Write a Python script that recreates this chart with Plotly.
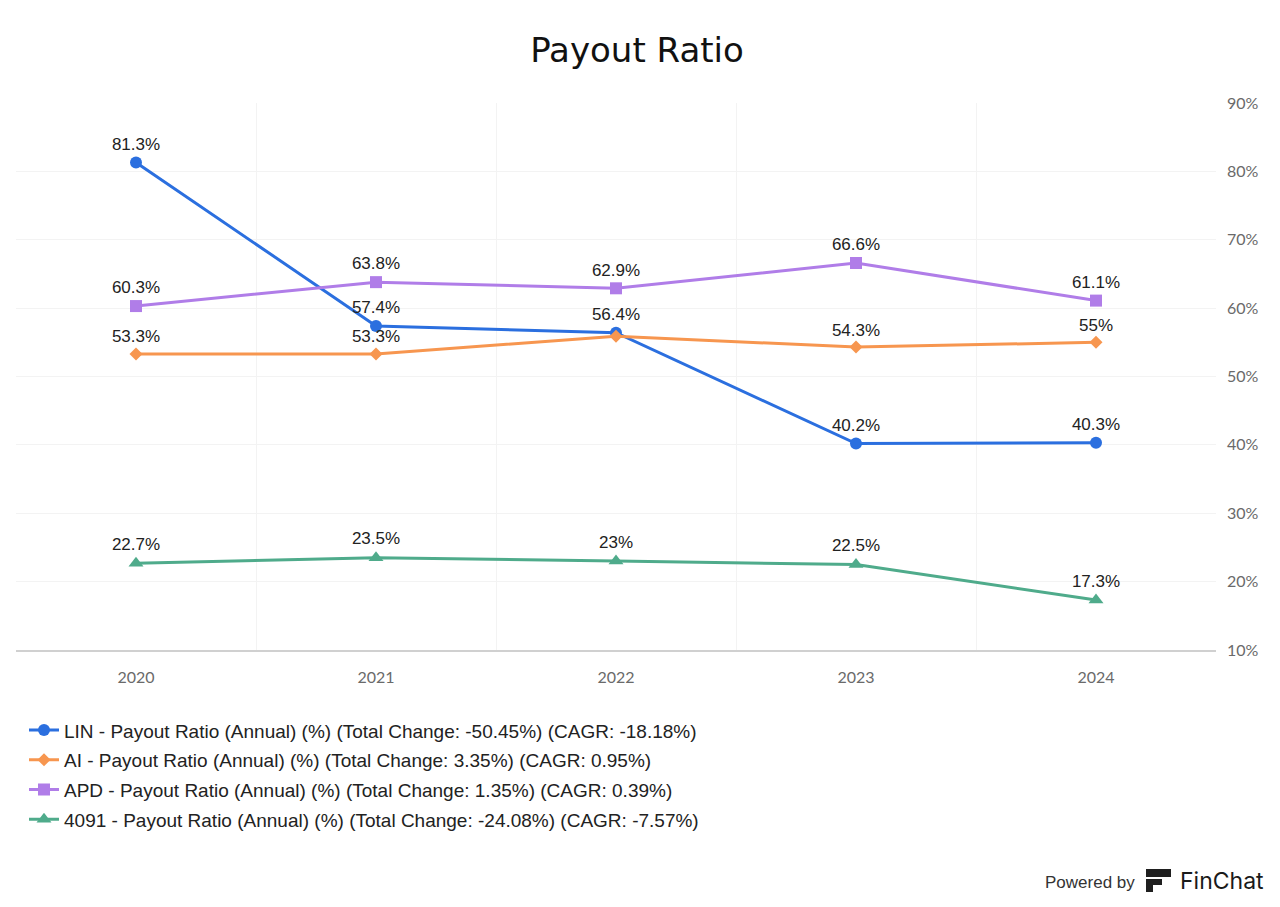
import plotly.graph_objects as go

years = ["2020", "2021", "2022", "2023", "2024"]
lin = [81.3, 57.4, 56.4, 40.2, 40.3]
ai = [53.3, 53.3, 55.9, 54.3, 55.0]
apd = [60.3, 63.8, 62.9, 66.6, 61.1]
t4091 = [22.7, 23.5, 23.0, 22.5, 17.3]
ai_labels = ["53.3%", "53.3%", "", "54.3%", "55%"]

series = [
    ("LIN - Payout Ratio (Annual) (%) (Total Change: -50.45%) (CAGR: -18.18%)", lin, "#2b6fdf", "circle", 12, None),
    ("AI - Payout Ratio (Annual) (%) (Total Change: 3.35%) (CAGR: 0.95%)", ai, "#f7964f", "diamond", 10, ai_labels),
    ("APD - Payout Ratio (Annual) (%) (Total Change: 1.35%) (CAGR: 0.39%)", apd, "#b07de8", "square", 12, None),
    ("4091 - Payout Ratio (Annual) (%) (Total Change: -24.08%) (CAGR: -7.57%)", t4091, "#4fab8b", "triangle-up", 13, None),
]

def fmt(v):
    s = ("%.1f" % v).rstrip("0").rstrip(".")
    return s + "%"

fig = go.Figure()
xs = list(range(len(years)))
for i, (name, vals, color, sym, size, labels) in enumerate(series):
    txt = labels if labels is not None else [fmt(v) for v in vals]
    fig.add_trace(go.Scatter(
        x=xs, y=vals, name=name, mode="lines+markers+text",
        legendgroup="g%d" % i,
        text=txt, textposition="top center",
        textfont=dict(family="Liberation Sans, Arial", size=17, color="#222222"),
        line=dict(color=color, width=3),
        marker=dict(symbol=sym, size=size, color=color),
        cliponaxis=False,
    ))

# page has an 8px body margin; plot area targets screen x 16..1216, y 103..650
fig.update_layout(
    width=1272, height=899,
    paper_bgcolor="white", plot_bgcolor="white",
    margin=dict(l=8, r=64, t=95, b=257),
    title=dict(text="Payout Ratio", x=(637 - 8) / 1272, xanchor="center", y=1 - 42/899, yanchor="middle",
               font=dict(family="DejaVu Sans, Inter, sans-serif", size=34, color="#111111")),
    showlegend=True,
    legend=dict(orientation="v", x=8 / 1200, xanchor="left", y=-0.112, yanchor="top",
                font=dict(family="Liberation Sans, Arial", size=19, color="#222222"),
                tracegroupgap=2, itemwidth=30, bgcolor="rgba(0,0,0,0)"),
    xaxis=dict(range=[-0.5, 4.5], tickmode="array", tickvals=xs, ticktext=years,
               showgrid=False, zeroline=False, showline=True, linecolor="#d0d0d0", linewidth=1.5,
               ticks="", ticklabelstandoff=12,
               tickfont=dict(family="Lato, Open Sans", size=16, color="#6a6a6a"),
               minor=dict(tickvals=[-0.5, 0.5, 1.5, 2.5, 3.5, 4.5], showgrid=True, gridcolor="#f3f3f3", gridwidth=1, ticks="")),
    yaxis=dict(range=[10, 90], side="right", tickmode="array", tickvals=[10, 20, 30, 40, 50, 60, 70, 80, 90],
               ticktext=["10%", "20%", "30%", "40%", "50%", "60%", "70%", "80%", "90%"],
               showgrid=True, gridcolor="#f3f3f3", gridwidth=1, zeroline=False, showline=False,
               ticks="", ticklabelstandoff=10,
               tickfont=dict(family="Lato, Open Sans", size=16, color="#6a6a6a")),
)

fig.add_annotation(xref="paper", yref="paper", x=(1137 - 16) / 1200, y=-(882 - 650) / 547,
                   xanchor="right", yanchor="middle", showarrow=False,
                   text="Powered by", font=dict(family="Liberation Sans, Arial", size=17, color="#333333"))
fig.add_annotation(xref="paper", yref="paper", x=(1178 - 16) / 1200, y=-(881 - 650) / 547,
                   xanchor="left", yanchor="middle", showarrow=False,
                   text="FinChat", font=dict(family="Inter, Liberation Sans", size=23, color="#1a1a1a"))

def px(xp, yp):
    return ((xp - 16) / 1200, (650 - yp) / 547)

# simple logo mark
for (ax, ay, bx, by) in [(1146, 869, 1171, 877), (1146, 879, 1162, 885), (1146, 885, 1153, 892)]:
    x0, y0 = px(ax, ay)
    x1, y1 = px(bx, by)
    fig.add_shape(type="rect", xref="paper", yref="paper", x0=x0, y0=y1, x1=x1, y1=y0,
                  fillcolor="#1f1f1f", line=dict(width=0))

fig.write_html("out.html")
